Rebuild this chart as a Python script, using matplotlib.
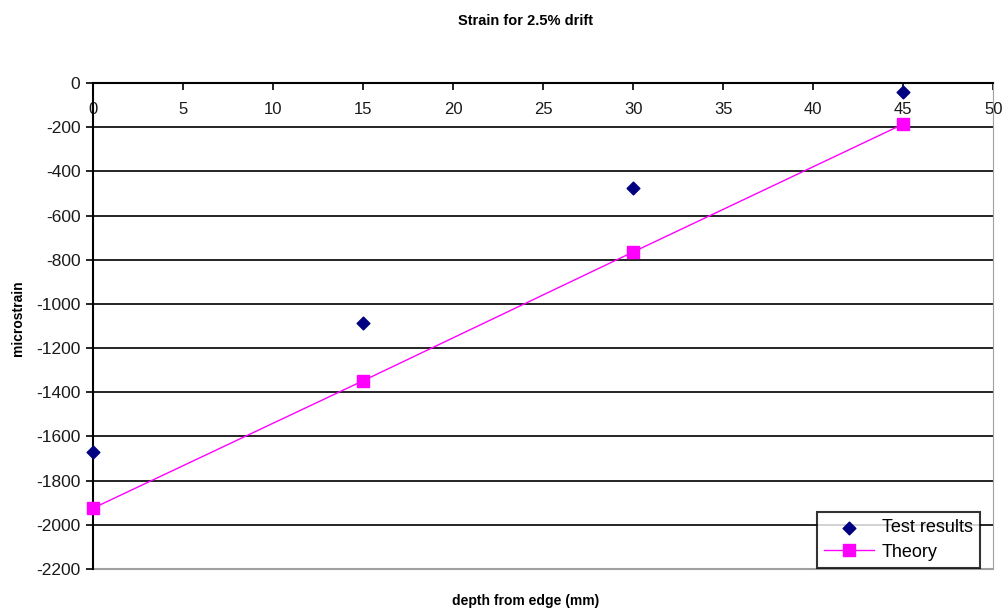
import matplotlib.pyplot as plt

# depth from edge (mm)
depth = [0, 15, 30, 45]
# measured and theoretical strain (microstrain)
test_results = [-1670, -1085, -475, -40]
theory = [-1925, -1348, -765, -186]

x_ticks = [0, 5, 10, 15, 20, 25, 30, 35, 40, 45, 50]
y_ticks = [0, -200, -400, -600, -800, -1000, -1200, -1400, -1600, -1800, -2000, -2200]

plt.rcParams['font.family'] = ['Liberation Sans', 'DejaVu Sans']

fig = plt.figure(figsize=(10.06, 6.12), dpi=100)
ax = fig.add_axes([0.0924, 0.0703, 0.895, 0.7941])

# horizontal grid every 200
for yv in y_ticks[1:-1]:
    ax.axhline(yv, color='black', lw=1.2, zorder=1)

ax.plot(depth, theory, color='#ff00ff', lw=1, marker='s', ms=8,
        mfc='#ff00ff', mec='#ff00ff', label='Theory', zorder=3, clip_on=False)
ax.scatter(depth, test_results, marker='D', s=42, color='#000080',
           label='Test results', zorder=4, clip_on=False)

ax.set_xlim(0, 50)
ax.set_ylim(-2200, 0)
ax.set_xticks(x_ticks)
ax.set_yticks(y_ticks)
ax.set_yticklabels([str(v) for v in y_ticks])

# x axis crosses at y = 0 (top of plot)
ax.spines['bottom'].set_position(('data', 0))
ax.spines['bottom'].set_linewidth(1.5)
ax.spines['left'].set_linewidth(1.5)
ax.spines['top'].set_visible(False)
ax.spines['right'].set_color('#a0a0a0')
ax.axhline(-2200, color='#a0a0a0', lw=1.5, zorder=2, clip_on=False)

ax.tick_params(axis='x', direction='out', length=5, width=1.2, labelsize=12, pad=9)
ax.tick_params(axis='y', direction='out', length=5, width=1.2, labelsize=12.5, pad=4)
for lab in ax.get_xticklabels() + ax.get_yticklabels():
    lab.set_color('#1a1a1a')

fig.text(0.522, 0.965, 'Strain for 2.5% drift', ha='center', va='center',
         fontsize=10.5, fontweight='bold')
fig.text(0.522, 0.018, 'depth from edge (mm)', ha='center', va='center',
         fontsize=10, fontweight='bold')
fig.text(0.018, 0.48, 'microstrain', ha='center', va='center',
         rotation=90, fontsize=10, fontweight='bold')

handles, labels = ax.get_legend_handles_labels()
leg = fig.legend(handles[::-1], labels[::-1], loc='lower right',
                 bbox_to_anchor=(0.974, 0.072), frameon=True, fancybox=False,
                 edgecolor='black', fontsize=13, handlelength=2.8,
                 handletextpad=0.4, borderpad=0.4, labelspacing=0.4,
                 borderaxespad=0)
leg.get_frame().set_linewidth(1.5)

fig.savefig('out.png', dpi=100)
